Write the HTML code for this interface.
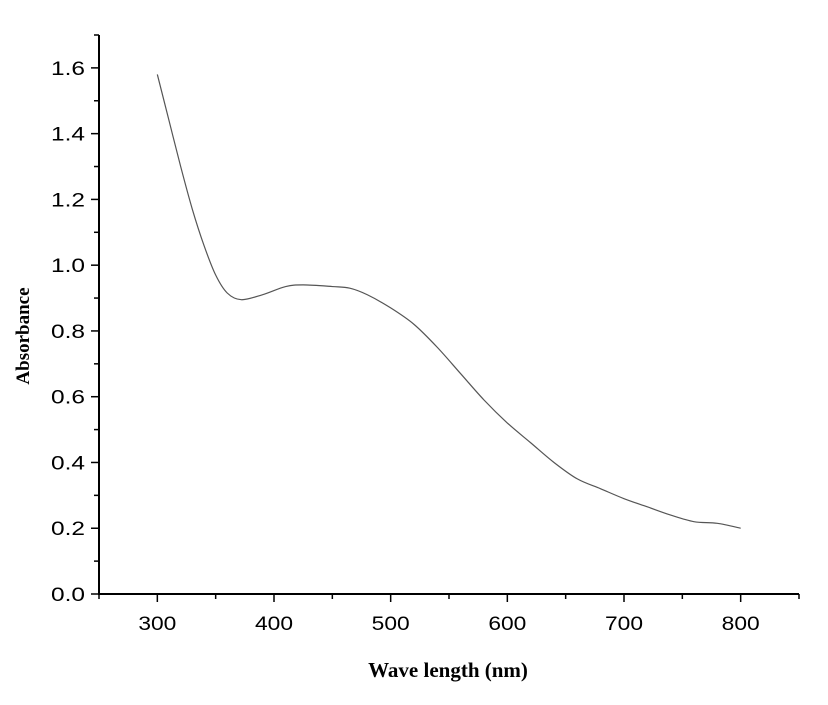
<!DOCTYPE html>
<html><head><meta charset="utf-8"><style>
html,body{margin:0;padding:0;background:#fff;}
svg{display:block;}
</style></head><body>
<svg width="828" height="705" id="chart">
<g id="axes"></g>
<path id="curve" fill="none" stroke="#555" stroke-width="1.2"/>
<text x="448" y="677" text-anchor="middle" font-family="Liberation Serif, serif" font-weight="bold" font-size="21">Wave length (nm)</text>
<text transform="translate(29,336) rotate(-90)" text-anchor="middle" font-family="Liberation Serif, serif" font-weight="bold" font-size="19">Absorbance</text>
</svg>
<script>
const wavelengths=[300,310,320,330,340,350,360,372,390,410,425,450,465,480,500,520,540,560,580,600,620,640,660,680,700,720,740,760,780,800];
const absorbance=[1.58,1.44,1.30,1.17,1.06,0.97,0.915,0.895,0.91,0.935,0.94,0.935,0.93,0.91,0.87,0.82,0.75,0.67,0.59,0.52,0.46,0.40,0.35,0.32,0.29,0.265,0.24,0.22,0.215,0.20];
const xTicks=[300,400,500,600,700,800];
const yTicks=[0.0,0.2,0.4,0.6,0.8,1.0,1.2,1.4,1.6];
const xMin=250,xMax=850,yMin=0,yMax=1.7;
const X=v=>99+(v-xMin)*(799-99)/(xMax-xMin);
const Y=v=>594-(v-yMin)*(594-35)/(yMax-yMin);
const NS='http://www.w3.org/2000/svg';
const g=document.getElementById('axes');
function mk(t,a){const e=document.createElementNS(NS,t);for(const k in a)e.setAttribute(k,a[k]);g.appendChild(e);return e;}
let ax=mk('line',{x1:99,y1:35,x2:99,y2:595,stroke:'#000','stroke-width':2});


let bx=mk('line',{x1:98,y1:594,x2:799,y2:594,stroke:'#000','stroke-width':2});


for(let v=250;v<=850;v+=50){const major=v%100===0;
 let t=mk('line',{x1:X(v),x2:X(v),y1:594,y2:594+(major?8:5),stroke:'#000','stroke-width':1.5});
 
 }
xTicks.forEach(v=>{let t=mk('text',{x:X(v),y:630,'text-anchor':'middle','font-family':'Liberation Sans, sans-serif','font-size':19,'textLength':38,'lengthAdjust':'spacingAndGlyphs'});t.textContent=v;
 
 });
for(let i=0;i<=17;i++){const v=i/10;const major=i%2===0;
 let t=mk('line',{x1:99-(major?8:5),x2:99,y1:Y(v),y2:Y(v),stroke:'#000','stroke-width':1.5});
 
 }
yTicks.forEach(v=>{let t=mk('text',{x:85,y:Y(v)+7,'text-anchor':'end','font-family':'Liberation Sans, sans-serif','font-size':19,'textLength':34,'lengthAdjust':'spacingAndGlyphs'});t.textContent=v.toFixed(1);
 
 });
const pts=wavelengths.map((w,i)=>[X(w),Y(absorbance[i])]);
let d='M'+pts[0][0]+','+pts[0][1];
for(let i=0;i<pts.length-1;i++){const p0=pts[i-1]||pts[i],p1=pts[i],p2=pts[i+1],p3=pts[i+2]||p2;
 d+=' C'+(p1[0]+(p2[0]-p0[0])/6)+','+(p1[1]+(p2[1]-p0[1])/6)+' '+(p2[0]-(p3[0]-p1[0])/6)+','+(p2[1]-(p3[1]-p1[1])/6)+' '+p2[0]+','+p2[1];}
document.getElementById('curve').setAttribute('d',d);
</script>
</body></html>
